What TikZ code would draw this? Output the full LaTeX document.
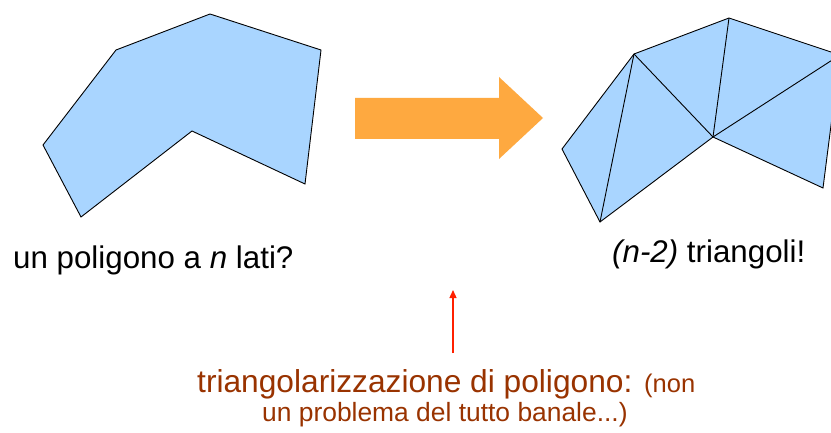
\documentclass[tikz,border=0pt]{standalone}
\usepackage{fontspec}
\setmainfont{Liberation Sans}
\usetikzlibrary{arrows.meta}
\definecolor{polyblue}{RGB}{169,213,255}
\definecolor{arroworange}{RGB}{254,169,64}
\definecolor{brownred}{RGB}{153,51,0}
\definecolor{pointred}{RGB}{255,32,0}
\tikzset{
  poly/.style={fill=polyblue, draw=black, line width=0.9pt, line join=miter},
  diag/.style={draw=black, line width=0.9pt},
  bigtxt/.style={anchor=base west, inner sep=0pt, font=\fontsize{31.3}{36}\selectfont},
  captxt/.style={anchor=base west, inner sep=0pt, text=brownred},
  fatarrow/.style={fill=arroworange, draw=none},
  pointer/.style={draw=pointred, line width=1.3pt, -{Triangle[width=7pt,length=8pt]}}
}
\begin{document}
\begin{tikzpicture}[x=1pt,y=-1pt]
\useasboundingbox (0,0) rectangle (831,433);
\clip (0,0) rectangle (831,433);
\fill[white] (0,0) rectangle (831,433);
% left polygon
\coordinate (A) at (116,50);
\coordinate (B) at (210,14);
\coordinate (C) at (321,50);
\coordinate (D) at (305,184);
\coordinate (E) at (192,131);
\coordinate (F) at (81,217);
\coordinate (G) at (43,145);
\draw[poly] (A) -- (B) -- (C) -- (D) -- (E) -- (F) -- (G) -- cycle;
% right polygon (triangulated)
\coordinate (A2) at (634,54);
\coordinate (B2) at (729,18);
\coordinate (C2) at (840,55);
\coordinate (D2) at (823,188);
\coordinate (E2) at (713,137);
\coordinate (F2) at (600,222);
\coordinate (G2) at (562,149);
\draw[poly] (A2) -- (B2) -- (C2) -- (D2) -- (E2) -- (F2) -- (G2) -- cycle;
\draw[diag] (A2) -- (F2);
\draw[diag] (A2) -- (E2);
\draw[diag] (B2) -- (E2);
\draw[diag] (C2) -- (E2);
% big orange arrow
\coordinate (arr1) at (355,98);
\coordinate (arr2) at (499,98);
\coordinate (arr3) at (499,77);
\coordinate (arrtip) at (543,118);
\coordinate (arr5) at (499,159);
\coordinate (arr6) at (499,139);
\coordinate (arr7) at (355,139);
\fill[fatarrow] (arr1) -- (arr2) -- (arr3) -- (arrtip) -- (arr5) -- (arr6) -- (arr7) -- cycle;
% labels
\node[bigtxt] (lefttxt) at (13,269) {un poligono a \textit{n} lati?};
\node[bigtxt] (righttxt) at (612,262) {\textit{(n-2)} triangoli!};
\node[captxt] (cap1) at (197,392) {\fontsize{31.7}{36}\selectfont triangolarizzazione di poligono: \fontsize{25.5}{30}\selectfont(non};
\node[captxt, font=\fontsize{26.4}{30}\selectfont] (cap2) at (262,421) {un problema del tutto banale...)};
% red pointer
\coordinate (pbot) at (453,353);
\coordinate (ptop) at (453,290);
\draw[pointer] (pbot) -- (ptop);
\end{tikzpicture}
\end{document}
